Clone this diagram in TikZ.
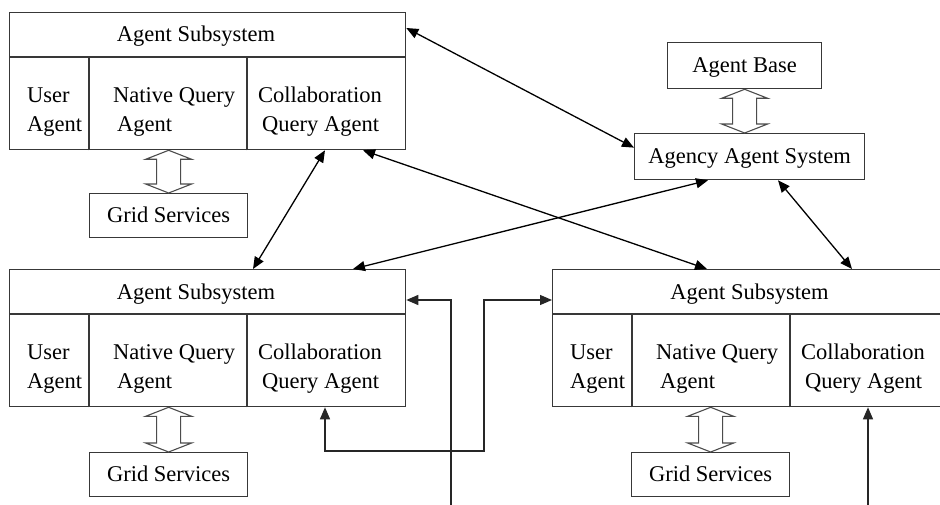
\documentclass[tikz,border=0pt]{standalone}
\usepackage{fontspec}
\setmainfont{Liberation Serif}
\usetikzlibrary{arrows.meta,calc}
\tikzset{
  boxline/.style={draw=black!78,line width=1.3pt},
  sbox/.style={boxline,minimum width=396pt,minimum height=137pt,inner sep=0pt,anchor=north west},
  lbl/.style={inner sep=0pt,font=\fontsize{22.5}{26}\selectfont,text=black},
  sbtxt/.style={boxline,inner sep=0pt,font=\fontsize{22.5}{26}\selectfont,text=black,text height=14pt,text depth=0pt},
  conn/.style={draw=black,line width=1.3pt,{Triangle[length=12pt,width=10pt]}-{Triangle[length=12pt,width=10pt]}},
  oneway/.style={draw=black!85,line width=1.3pt,-{Triangle[length=12pt,width=10pt]}},
  hollowarr/.style={draw=black!70,line width=1.1pt,fill=white}
}
\newcommand\agentsub[3]{%
  \node[sbox] (#1) at (#2) {};
  \draw[boxline] ([yshift=-45pt]#1.north west) -- ([yshift=-45pt]#1.north east);
  \draw[boxline] ([xshift=80pt]#1.south west) -- ([xshift=80pt,yshift=-45pt]#1.north west);
  \draw[boxline] ([xshift=238pt]#1.south west) -- ([xshift=238pt,yshift=-45pt]#1.north west);
  \node[lbl,anchor=base] (#1-h) at ([xshift=#3pt,yshift=-30pt]#1.north west) {Agent Subsystem};
  \node[lbl,anchor=base west] (#1-u1) at ([xshift=18pt,yshift=-90.5pt]#1.north west) {User};
  \node[lbl,anchor=base west] (#1-u2) at ([xshift=18pt,yshift=-119.5pt]#1.north west) {Agent};
  \node[lbl,anchor=base west] (#1-n1) at ([xshift=104pt,yshift=-90.5pt]#1.north west) {Native Query};
  \node[lbl,anchor=base west] (#1-n2) at ([xshift=108pt,yshift=-119.5pt]#1.north west) {Agent};
  \node[lbl,anchor=base west] (#1-c1) at ([xshift=249pt,yshift=-90.5pt]#1.north west) {Collaboration};
  \node[lbl,anchor=base west] (#1-c2) at ([xshift=253pt,yshift=-119.5pt]#1.north west) {Query Agent};
}
\newcommand\hollowdbl[2]{%
  \draw[hollowarr] let \p1=(#1), \p2=(#2) in
    (\x1,\y1) -- (\x1+23pt,\y1-9pt) -- (\x1+12pt,\y1-9pt) -- (\x1+12pt,\y2+9pt)
    -- (\x1+23pt,\y2+9pt) -- (\x1,\y2) -- (\x1-23pt,\y2+9pt) -- (\x1-12pt,\y2+9pt)
    -- (\x1-12pt,\y1-9pt) -- (\x1-23pt,\y1-9pt) -- cycle;
}
\begin{document}
\begin{tikzpicture}[x=1pt,y=-1pt]
\clip (0,0) rectangle (940,505);
\fill[white] (0,0) rectangle (940,505);

% agent subsystems
\agentsub{ts}{9,12}{187}
\agentsub{bl}{9,269}{187}
\agentsub{br}{552,269}{197.5}

% grid services
\node[sbtxt,minimum width=158pt,minimum height=44pt,anchor=north west] (gs1) at (89,193) {Grid Services};
\node[sbtxt,minimum width=158pt,minimum height=44pt,anchor=north west] (gs2) at (89,452) {Grid Services};
\node[sbtxt,minimum width=158pt,minimum height=44pt,anchor=north west] (gs3) at (631,452) {Grid Services};

% agent base and agency
\node[sbtxt,minimum width=154pt,minimum height=46pt,anchor=north west] (ab) at (667,42) {Agent Base};
\node[sbtxt,minimum width=230pt,minimum height=46pt,anchor=north west] (ag) at (634,133) {Agency Agent System};

% hollow double arrows
\hollowdbl{gs1.north |- ts.south}{gs1.north}
\hollowdbl{gs2.north |- bl.south}{gs2.north}
\hollowdbl{gs3.north |- br.south}{gs3.north}
\hollowdbl{ab.south}{ab.south |- ag.north}

% diagonal connectors
\draw[conn] ([yshift=-16pt]ts.north east) -- ([yshift=9pt]ag.west);
\draw[conn] ([xshift=316pt]ts.south west) -- ([xshift=244pt]bl.north west);
\draw[conn] ([xshift=354pt]ts.south west) -- ([xshift=155pt]br.north west);
\draw[conn] ([xshift=74pt]ag.south west) -- ([xshift=344pt]bl.north west);
\draw[conn] ([xshift=144pt]ag.south west) -- ([xshift=300pt]br.north west);

% orthogonal connectors
\coordinate (l1) at (451,505);
\coordinate (l2) at (484,451);
\coordinate (l3) at (868,505);
\draw[oneway] (l1) |- ([yshift=-31pt]bl.north east);
\draw[conn,draw=black!85] ([xshift=316pt]bl.south west) |- (l2) |- ([yshift=-31pt]br.north west);
\draw[oneway] (l3) -- (l3 |- br.south);
\end{tikzpicture}
\end{document}
